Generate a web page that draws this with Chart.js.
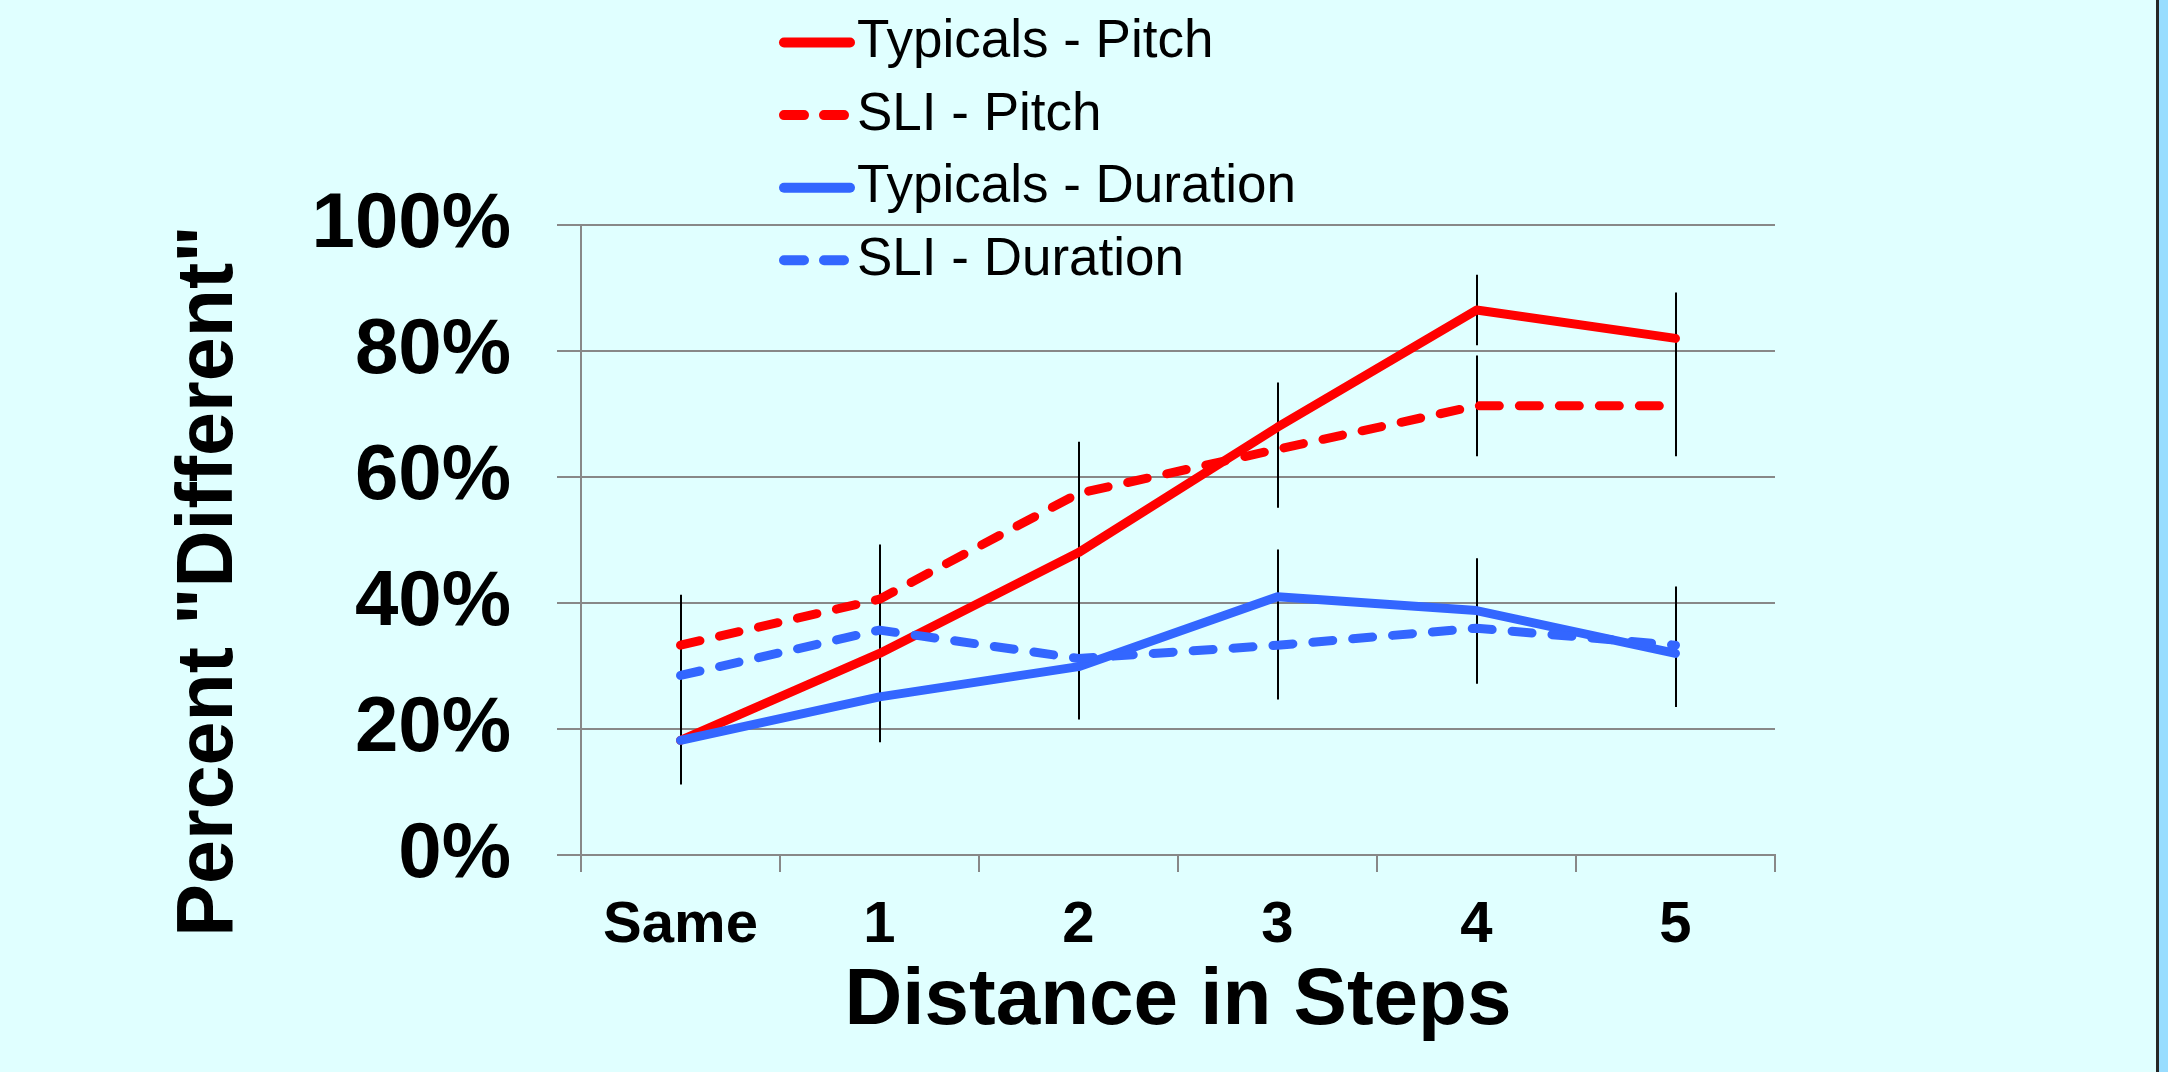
<!DOCTYPE html>
<html>
<head>
<meta charset="utf-8">
<script src="https://cdn.jsdelivr.net/npm/chart.js@4.4.0/dist/chart.umd.min.js"></script>
<style>
html, body { margin: 0; padding: 0; background: #99DDFF; overflow: hidden; width: 2168px; height: 1072px; }
#wrap { position: absolute; left: 0; top: 0; width: 2156px; height: 1072px; background: #E0FFFF; border-right: 3px solid #262626; }
</style>
</head>
<body>
<div id="wrap"><canvas id="c"></canvas></div>
<script>
// ---- data (percent) ----
const categories = ['Same', '1', '2', '3', '4', '5'];
const typicalsPitch = [18.2, 32.0, 48.0, 67.9, 86.5, 82.0];
const sliPitch = [33.3, 40.6, 57.4, 64.4, 71.3, 71.3];
const typicalsDuration = [18.2, 25.1, 29.9, 41.0, 38.8, 32.0];
const sliDuration = [28.5, 35.7, 31.2, 33.3, 36.0, 33.3];

const typicalsPitchErr = [7.0, 8.0, 9.0, 7.1, 5.6, 7.3];
const sliPitchErr = [8.0, 8.7, 8.2, 9.3, 8.0, 8.0];
const typicalsDurationErr = [6.5, 7.2, 8.4, 7.5, 8.3, 8.5];
const sliDurationErr = [7.0, 8.5, 8.0, 8.6, 8.8, 9.3];

const yTicks = [0, 20, 40, 60, 80, 100];
const seriesLabels = ['Typicals - Pitch', 'SLI - Pitch', 'Typicals - Duration', 'SLI - Duration'];
const yTitle = 'Percent "Different"';
const xTitle = 'Distance in Steps';

const FONT = '"Liberation Sans", Arial, Helvetica, sans-serif';
const RED = '#FF0000';
const BLUE = '#3366FF';
const DASH = [20, 20];

const errorBars = {
  id: 'errorBars',
  beforeDatasetsDraw(chart) {
    const ctx = chart.ctx;
    const xs = chart.scales.x, ys = chart.scales.y;
    ctx.save();
    ctx.strokeStyle = '#000';
    ctx.lineWidth = 2;
    chart.data.datasets.forEach(ds => {
      ds.data.forEach((v, i) => {
        const e = ds.errors[i];
        const x = Math.round(xs.getPixelForValue(i));
        ctx.beginPath();
        ctx.moveTo(x, ys.getPixelForValue(v + e));
        ctx.lineTo(x, ys.getPixelForValue(v - e));
        ctx.stroke();
      });
    });
    ctx.restore();
  }
};

const overlayLegend = {
  id: 'overlayLegend',
  afterDraw(chart, args, opts) {
    const ctx = chart.ctx;
    ctx.save();
    ctx.font = opts.font;
    ctx.fillStyle = '#000';
    ctx.textBaseline = 'middle';
    ctx.textAlign = 'left';
    chart.data.datasets.forEach((ds, i) => {
      const y = opts.y0 + i * opts.dy;
      ctx.beginPath();
      ctx.strokeStyle = ds.borderColor;
      ctx.lineWidth = opts.lineWidth;
      ctx.lineCap = 'round';
      ctx.setLineDash(ds.borderDash || []);
      ctx.moveTo(opts.x0, y);
      ctx.lineTo(opts.x1, y);
      ctx.stroke();
      ctx.setLineDash([]);
      ctx.fillText(ds.label, opts.textX, y + opts.textDy);
    });
    ctx.restore();
  }
};

const yAxisTitle = {
  id: 'yAxisTitle',
  afterDraw(chart, args, opts) {
    const ctx = chart.ctx;
    ctx.save();
    ctx.font = opts.font;
    ctx.fillStyle = '#000';
    ctx.textAlign = 'center';
    ctx.textBaseline = 'middle';
    ctx.translate(opts.x, opts.y);
    ctx.rotate(-Math.PI / 2);
    ctx.fillText(opts.text, 0, 0);
    ctx.restore();
  }
};

Chart.defaults.color = '#000';
Chart.defaults.font.family = FONT;

new Chart(document.getElementById('c'), {
  type: 'line',
  data: {
    labels: categories,
    datasets: [
      { label: seriesLabels[0], data: typicalsPitch, errors: typicalsPitchErr, borderColor: RED, order: 4 },
      { label: seriesLabels[1], data: sliPitch, errors: sliPitchErr, borderColor: RED, borderDash: DASH, order: 3 },
      { label: seriesLabels[2], data: typicalsDuration, errors: typicalsDurationErr, borderColor: BLUE, order: 2 },
      { label: seriesLabels[3], data: sliDuration, errors: sliDurationErr, borderColor: BLUE, borderDash: DASH, order: 1 }
    ].map(d => Object.assign({
      borderWidth: 9,
      pointRadius: 0,
      pointHoverRadius: 0,
      tension: 0,
      fill: false,
      borderCapStyle: 'round',
      borderJoinStyle: 'round',
      backgroundColor: d.borderColor
    }, d))
  },
  options: {
    responsive: true,
    maintainAspectRatio: false,
    animation: false,
    events: [],
    layout: { padding: { left: 0, top: 225, right: 381, bottom: 0 } },
    plugins: {
      legend: { display: false },
      tooltip: { enabled: false },
      overlayLegend: { x0: 784, x1: 850, y0: 42.5, dy: 72.6, lineWidth: 10, textX: 857, textDy: 0, font: '53px ' + FONT },
      yAxisTitle: { text: yTitle, x: 210, y: 581, font: 'bold 79px ' + FONT }
    },
    scales: {
      x: {
        type: 'category',
        offset: true,
        grid: { display: true, offset: true, drawOnChartArea: false, drawTicks: true, tickLength: 17, color: '#888888', lineWidth: 2 },
        border: { display: true, color: '#888888', width: 2 },
        ticks: { font: { size: 58, weight: 'bold', family: FONT }, padding: 19, maxRotation: 0, color: '#000' },
        title: { display: true, text: xTitle, font: { size: 80, weight: 'bold', family: FONT }, padding: { top: 0, bottom: 22 }, color: '#000' },
        afterFit(s) { s.height = 217; }
      },
      y: {
        min: 0,
        max: 100,
        afterBuildTicks(s) { s.ticks = yTicks.map(v => ({ value: v })); },
        grid: { color: '#888888', lineWidth: 2, tickLength: 24, drawTicks: true },
        border: { display: true, color: '#888888', width: 2 },
        ticks: { font: { size: 78, weight: 'bold', family: FONT }, padding: 46, color: '#000', callback: v => v + '%' },
        title: { display: false },
        afterFit(s) { s.width = 581; }
      }
    }
  },
  plugins: [errorBars, overlayLegend, yAxisTitle]
});
</script>
</body>
</html>
